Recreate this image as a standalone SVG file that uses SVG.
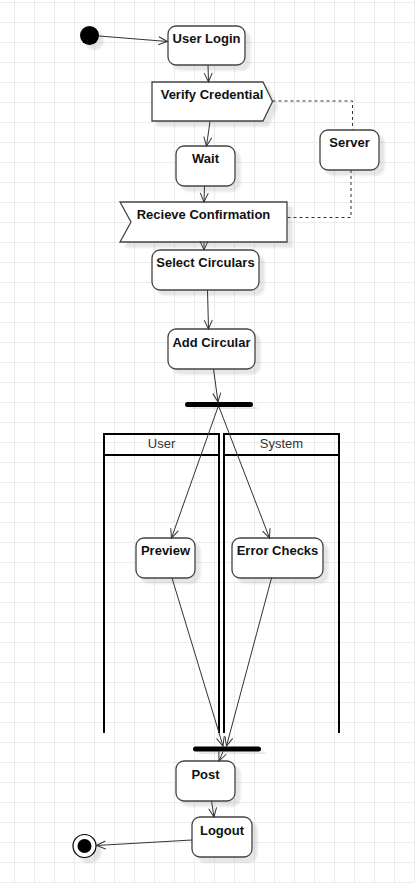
<svg xmlns="http://www.w3.org/2000/svg" width="415" height="883" viewBox="0 0 415 883">
<defs>
<pattern id="grid" x="14" y="2" width="20" height="20" patternUnits="userSpaceOnUse">
<path d="M0 0.5H20M0.5 0V20" stroke="#ececec" stroke-width="1" fill="none"/>
</pattern>
<filter id="sh" x="-20%" y="-20%" width="150%" height="160%">
<feGaussianBlur in="SourceAlpha" stdDeviation="1.2" result="b"/>
<feOffset in="b" dx="5" dy="5" result="o"/>
<feComponentTransfer in="o" result="s"><feFuncA type="linear" slope="0.1"/></feComponentTransfer>
<feMerge><feMergeNode in="s"/><feMergeNode in="SourceGraphic"/></feMerge>
</filter>
<marker id="open" viewBox="0 0 12 10" refX="10" refY="5" markerWidth="12" markerHeight="10" markerUnits="userSpaceOnUse" orient="auto">
<path d="M1 1L10 5L1 9" fill="none" stroke="#333" stroke-width="1"/>
</marker>
</defs>
<style>
.box{fill:#fff;stroke:#444;stroke-width:1.3}
.t{font-family:"Liberation Sans",Arial,sans-serif;font-size:13px;font-weight:bold;fill:#111;text-anchor:middle}
.h{font-family:"Liberation Sans",Arial,sans-serif;font-size:13px;fill:#333;text-anchor:middle}
.lane{fill:none;stroke:#000;stroke-width:2}
.e{fill:none;stroke:#333;stroke-width:1;marker-end:url(#open)}
.d{fill:none;stroke:#333;stroke-width:1;stroke-dasharray:3 3}
</style>
<rect width="415" height="883" fill="#fff"/>
<rect width="415" height="883" fill="url(#grid)"/>

<g id="lane-user">
<path class="lane" d="M104 733V434H219V733M104 455H219"/>
<text class="h" x="161.5" y="447.5">User</text>
</g>
<g id="lane-system">
<path class="lane" d="M224 733V434H339V733M224 455H339"/>
<text class="h" x="281.5" y="447.5">System</text>
</g>

<g id="start"><circle cx="89.5" cy="35.5" r="9.5" fill="#000" filter="url(#sh)"/></g>
<g id="user-login"><rect class="box" x="168" y="26" width="77" height="39" rx="8" filter="url(#sh)"/><text class="t" x="206.5" y="43">User Login</text></g>
<g id="verify-credential"><path class="box" d="M152 82H263L272.5 101.5L263 121H152Z" filter="url(#sh)"/><text class="t" x="212" y="99">Verify Credential</text></g>
<g id="wait"><rect class="box" x="176" y="146" width="59" height="40" rx="8" filter="url(#sh)"/><text class="t" x="205.5" y="163">Wait</text></g>
<g id="server"><rect class="box" x="320" y="130" width="59" height="40" rx="8" filter="url(#sh)"/><text class="t" x="349.5" y="147">Server</text></g>
<g id="recieve-confirmation"><path class="box" d="M120 202H287V242H120L131 222Z" filter="url(#sh)"/><text class="t" x="203.5" y="218.5">Recieve Confirmation</text></g>
<g id="select-circulars"><rect class="box" x="152" y="250" width="107" height="40" rx="8" filter="url(#sh)"/><text class="t" x="205.5" y="267">Select Circulars</text></g>
<g id="add-circular"><rect class="box" x="168" y="329" width="87" height="40" rx="8" filter="url(#sh)"/><text class="t" x="211.5" y="347">Add Circular</text></g>
<g id="fork"><rect x="185" y="402" width="68" height="5" rx="2.5" fill="#000" filter="url(#sh)"/></g>
<g id="preview"><rect class="box" x="136" y="538" width="59" height="40" rx="8" filter="url(#sh)"/><text class="t" x="165.5" y="555">Preview</text></g>
<g id="error-checks"><rect class="box" x="232" y="538" width="91" height="40" rx="8" filter="url(#sh)"/><text class="t" x="277.5" y="555">Error Checks</text></g>
<g id="join"><rect x="193" y="746.5" width="68" height="5" rx="2.5" fill="#000" filter="url(#sh)"/></g>
<g id="post"><rect class="box" x="176" y="761" width="59" height="40" rx="8" filter="url(#sh)"/><text class="t" x="205.5" y="779">Post</text></g>
<g id="logout"><rect class="box" x="192" y="817" width="60" height="40" rx="8" filter="url(#sh)"/><text class="t" x="222" y="835">Logout</text></g>
<g id="end"><circle cx="84.5" cy="846" r="11.5" fill="#fff" stroke="#000" stroke-width="1.2" filter="url(#sh)"/><circle cx="84.5" cy="846" r="7" fill="#000"/></g>

<g id="connectors">
<path class="e" d="M99 36L167.5 41.5"/>
<path class="e" d="M208 65L208.5 82"/>
<path class="e" d="M210 121.5L206.5 146"/>
<path class="e" d="M204.5 186L204 202"/>
<path class="e" d="M204 242L204 250"/>
<path class="e" d="M207.5 290L208.5 329"/>
<path class="e" d="M213.5 369L218 402"/>
<path class="e" d="M218 407L171.5 538"/>
<path class="e" d="M219 407L269.5 538"/>
<path class="e" d="M172 578L223 746"/>
<path class="e" d="M271.5 578L226.5 746"/>
<path class="e" d="M223 751.5L219 761"/>
<path class="e" d="M211.5 801L214 817"/>
<path class="e" d="M192 840L96.5 845.5"/>
<path class="d" d="M272.5 101H352.5V130"/>
<path class="d" d="M351 170V217.5H287"/>
</g>
</svg>
